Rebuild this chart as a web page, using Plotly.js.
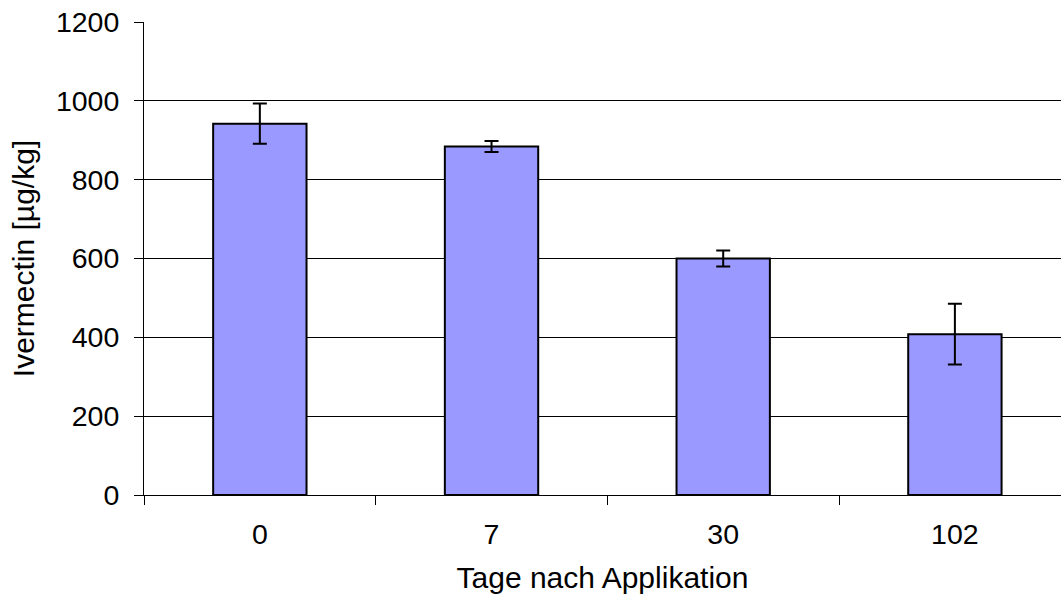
<!DOCTYPE html>
<html>
<head>
<meta charset="utf-8">
<script src="https://cdn.plot.ly/plotly-3.0.1.min.js"></script>
<style>html,body{margin:0;padding:0;background:#fff;}#chart{width:1061px;height:603px;}</style>
</head>
<body>
<div id="chart"></div>
<script>
const categories = ["0", "7", "30", "102"];
const values = [942, 884, 600, 408];
const errors = [51, 14, 20, 77];
const yTicks = [0, 200, 400, 600, 800, 1000, 1200];

const tickFont = {family: "Liberation Sans, Arial, sans-serif", size: 28.5, color: "#000"};
const titleFont = {family: "Liberation Sans, Arial, sans-serif", size: 30, color: "#000"};

Plotly.newPlot("chart", [{
  type: "bar",
  x: categories,
  y: values,
  marker: {color: "#9999FF", line: {color: "#000", width: 2}},
  error_y: {type: "data", array: errors, visible: true, color: "#000", thickness: 2, width: 7},
  hoverinfo: "none"
}], {
  width: 1061, height: 603,
  margin: {l: 144, r: 0, t: 22, b: 108},
  paper_bgcolor: "#fff", plot_bgcolor: "#fff",
  bargap: 0.597,
  font: tickFont,
  showlegend: false,
  xaxis: {
    type: "category",
    range: [-0.5, 3.458],
    tickson: "boundaries",
    ticks: "outside", ticklen: 9, tickcolor: "#000", tickwidth: 1,
    showline: true, linecolor: "#000", linewidth: 1,
    showgrid: false, zeroline: false,
    tickfont: tickFont,
    ticklabelstandoff: 14,
    title: {text: "Tage nach Applikation", font: titleFont, standoff: 17}
  },
  yaxis: {
    range: [0, 1200],
    tickvals: yTicks,
    ticktext: yTicks.map(String),
    ticks: "outside", ticklen: 9, tickcolor: "#000", tickwidth: 1,
    showline: true, linecolor: "#000", linewidth: 1,
    showgrid: true, gridcolor: "#000", gridwidth: 1,
    zeroline: false,
    tickfont: tickFont,
    ticklabelstandoff: 9,
    title: {text: "Ivermectin [µg/kg]", font: titleFont, standoff: 12}
  }
}, {staticPlot: true, displayModeBar: false});
</script>
</body>
</html>
